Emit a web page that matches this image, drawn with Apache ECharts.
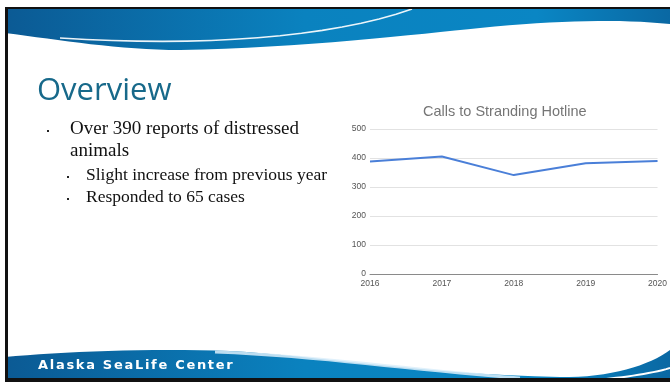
<!DOCTYPE html>
<html>
<head>
    <meta charset="utf-8">
    <title>Overview</title>
    <script src="https://cdn.jsdelivr.net/npm/echarts@6.0.0/dist/echarts.min.js"></script>
    <style>
        html, body { margin: 0; padding: 0; background: #fff; }
        #main { width: 670px; height: 382px; }
    </style>
</head>
<body>
    <div id="main"></div>

    <script type="text/javascript">
        // data
        var years = ['2016', '2017', '2018', '2019', '2020'];
        var calls = [388, 405, 341, 382, 390];
        var yTicks = { min: 0, max: 500, interval: 100 };

        var bullets = [
            'Over 390 reports of distressed',
            'animals'
        ];
        var subBullets = [
            'Slight increase from previous year',
            'Responded to 65 cases'
        ];
        var footer = 'Alaska SeaLife Center';

        // turn a list of cubic segments into points for polygon / polyline decorations
        function curve(start, segs) {
            var pts = [start];
            var p0 = start;
            segs.forEach(function (s) {
                if (s.length === 1) { pts.push(s[0]); p0 = s[0]; return; }
                for (var k = 1; k <= 16; k++) {
                    var t = k / 16, u = 1 - t;
                    pts.push([
                        u * u * u * p0[0] + 3 * u * u * t * s[0][0] + 3 * u * t * t * s[1][0] + t * t * t * s[2][0],
                        u * u * u * p0[1] + 3 * u * u * t * s[0][1] + 3 * u * t * t * s[1][1] + t * t * t * s[2][1]
                    ]);
                }
                p0 = s[2];
            });
            return pts;
        }

        var blueGrad = new echarts.graphic.LinearGradient(0, 0, 1, 0, [
            { offset: 0, color: '#0b5a94' },
            { offset: 0.45, color: '#0a82bf' },
            { offset: 0.8, color: '#0a86c4' },
            { offset: 1, color: '#0a68a3' }
        ]);

        var serif = '"Liberation Serif", "DejaVu Serif", serif';
        var footerFont = 'bold 13px "DejaVu Sans", Verdana, sans-serif';

        var topShape = curve([5, 9], [
            [[670, 9]], [[670, 24]],
            [[620, 19], [560, 20], [480, 28]],
            [[420, 34], [300, 48], [180, 50]],
            [[120, 50], [60, 40], [5, 33]]
        ]);
        var topLine = curve([60, 38], [[[200, 47], [330, 38], [412, 9]]]);
        var bottomShape = curve([5, 357], [
            [[60, 352], [150, 348], [230, 351]],
            [[320, 356], [420, 374], [560, 377]],
            [[610, 378], [650, 365], [670, 350]],
            [[670, 379]], [[5, 379]]
        ]);
        var bottomGlow = curve([215, 352], [[[320, 356], [410, 370], [520, 378]]]);
        var bottomLine = curve([585, 381], [[[620, 378], [650, 374], [670, 368]]]);

        var graphics = [
            { type: 'polygon', shape: { points: topShape }, style: { fill: blueGrad }, z: 1 },
            { type: 'polyline', shape: { points: topLine }, style: { stroke: 'rgba(255,255,255,0.92)', lineWidth: 1.6, fill: null }, z: 2 },
            { type: 'polygon', shape: { points: bottomShape }, style: { fill: blueGrad }, z: 1 },
            { type: 'polyline', shape: { points: bottomGlow }, style: { stroke: 'rgba(220,238,250,0.85)', lineWidth: 3, fill: null }, z: 2 },
            { type: 'polyline', shape: { points: bottomLine }, style: { stroke: '#ffffff', lineWidth: 2, fill: null }, z: 2 },
            // black frame
            { type: 'rect', shape: { x: 5, y: 7, width: 665, height: 2 }, style: { fill: '#111' }, z: 3 },
            { type: 'rect', shape: { x: 5, y: 7, width: 3, height: 375 }, style: { fill: '#111' }, z: 3 },
            { type: 'rect', shape: { x: 5, y: 378, width: 665, height: 4 }, style: { fill: '#111' }, z: 3 },
            // heading
            { type: 'text', x: 37, y: 91, z: 4,
              style: { text: 'Overview', fill: '#17698a', textVerticalAlign: 'middle',
                       font: '31px "Open Sans", "Noto Sans", sans-serif' } }
        ];

        // footer is letter-spaced, so lay it out one glyph at a time
        var ctx = document.createElement('canvas').getContext('2d');
        ctx.font = footerFont;
        var fx = 38;
        for (var c = 0; c < footer.length; c++) {
            graphics.push({ type: 'text', x: fx, y: 366, z: 4,
                style: { text: footer[c], fill: '#ffffff', textVerticalAlign: 'middle', font: footerFont } });
            fx += ctx.measureText(footer[c]).width + 1.7;
        }

        for (var i = 0; i < bullets.length; i++) {
            graphics.push({ type: 'text', x: 70, y: 129 + i * 22, z: 4,
                style: { text: bullets[i], fill: '#111', textVerticalAlign: 'middle', font: '19px ' + serif } });
        }
        graphics.push({ type: 'rect', shape: { x: 47, y: 130, width: 2, height: 2 }, style: { fill: '#222' }, z: 4 });

        for (var j = 0; j < subBullets.length; j++) {
            graphics.push({ type: 'text', x: 86, y: 175 + j * 22, z: 4,
                style: { text: subBullets[j], fill: '#111', textVerticalAlign: 'middle', font: '17.5px ' + serif } });
            graphics.push({ type: 'rect', shape: { x: 67, y: 176 + j * 22, width: 2, height: 2 }, style: { fill: '#222' }, z: 4 });
        }

        var myChart = echarts.init(document.getElementById('main'));

        var option = {
            backgroundColor: '#ffffff',
            animation: false,
            title: {
                text: 'Calls to Stranding Hotline',
                left: 418,
                top: 99,
                textStyle: {
                    fontFamily: 'Arial, "Liberation Sans", sans-serif',
                    fontSize: 14.5,
                    fontWeight: 'normal',
                    color: '#757575'
                }
            },
            grid: {
                left: 370,
                right: 8,
                top: 129,
                bottom: 108
            },
            xAxis: {
                type: 'category',
                boundaryGap: false,
                data: years,
                axisLine: { lineStyle: { color: '#8a8a8a', width: 1 } },
                axisTick: { show: false },
                axisLabel: {
                    color: '#555',
                    fontSize: 8.5,
                    fontFamily: 'Arial, "Liberation Sans", sans-serif',
                    margin: 5
                }
            },
            yAxis: {
                type: 'value',
                min: yTicks.min,
                max: yTicks.max,
                interval: yTicks.interval,
                axisLine: { show: false },
                axisTick: { show: false },
                splitLine: { lineStyle: { color: '#e2e2e2', width: 1 } },
                axisLabel: {
                    color: '#555',
                    fontSize: 8.5,
                    fontFamily: 'Arial, "Liberation Sans", sans-serif',
                    margin: 4
                }
            },
            series: [{
                name: 'Calls',
                type: 'line',
                data: calls,
                symbol: 'none',
                lineStyle: { color: '#4a7fd8', width: 2 }
            }],
            graphic: graphics
        };

        myChart.setOption(option);
    </script>
</body>
</html>
